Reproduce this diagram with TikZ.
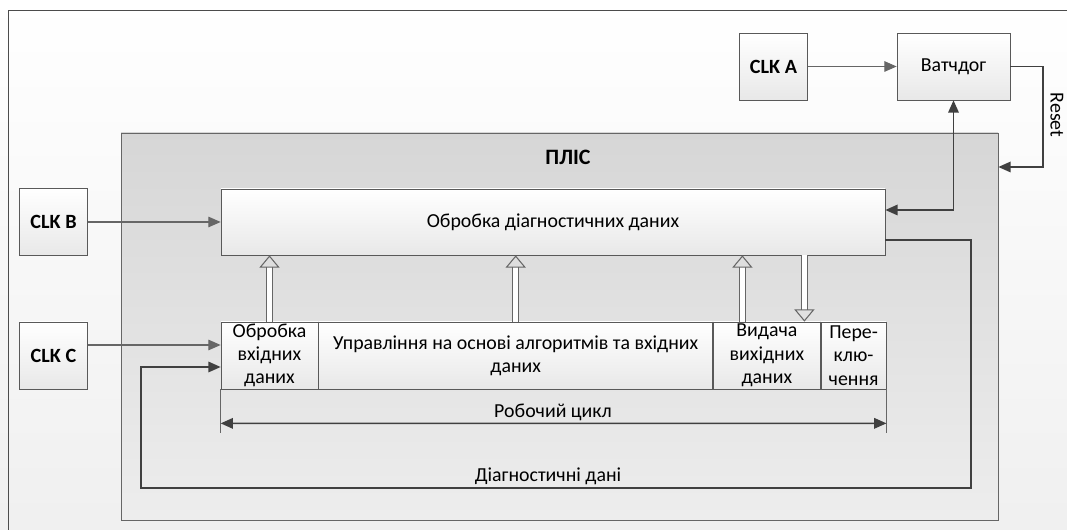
\documentclass[tikz,border=0pt]{standalone}
\usepackage{fontspec}
\setmainfont{Carlito}
\usetikzlibrary{positioning,arrows.meta}

\begin{document}
\begin{tikzpicture}[>={Triangle[length=7pt,width=6pt]}, font=\fontsize{11.3}{13.3}\selectfont]
	\tikzstyle{bx} = [rectangle,draw=black!65,top color=white,bottom color=black!9,inner sep=1pt];
	\tikzstyle{clk} = [bx,minimum height=1.34cm,minimum width=1.36cm,font=\fontsize{11.5}{13}\selectfont\bfseries];
	\tikzstyle{cell} = [bx,minimum height=1.34cm,align=center];
	\tikzstyle{wire} = [draw=black!75,line width=0.9pt];
	\tikzstyle{clkwire} = [draw=black!60,semithick];
	\tikzstyle{hollow} = [draw=black!60,double=white,double distance=2.8pt,line width=0.6pt,-{Triangle[open,length=7pt,width=11.5pt]}];
	
	% background and frame
	\useasboundingbox (0,0) rectangle (21.34,10.6);
	\fill[top color=white,bottom color=black!6] (0,0) rectangle (21.34,10.6);
	\draw[black!70]{
		(0.16,0) -- (0.16,10.4) -- (21.34,10.4)
	};
	
	\node[rectangle,draw=black!60,top color=black!16,bottom color=black!7,minimum width=17.54cm,minimum height=7.74cm](plis) at (11.19,4.07){};
	\node[](title)at(11.36,7.46){\fontsize{12.5}{14}\selectfont\bfseries ПЛІС};
	
	\node[clk](clka) at (15.47,9.27){CLK A};
	\node[bx,minimum width=2.26cm,minimum height=1.34cm](wd) at (19.07,9.27){Ватчдог};
	\node[clk](clkb) at (1.07,6.16){CLK B};
	\node[clk](clkc) at (1.07,3.49){CLK C};
	
	\node[bx,minimum width=13.28cm,minimum height=1.32cm](diag) at (11.06,6.16){Обробка діагностичних даних};
	\node[cell,minimum width=1.94cm](inp) at (5.39,3.49){Обробка\\вхідних\\даних};
	\node[cell,minimum width=7.88cm,right=0pt of inp](ctrl){Управління на основі алгоритмів та вхідних\\даних};
	\node[cell,minimum width=2.14cm,right=0pt of ctrl](outp){Видача\\вихідних\\даних};
	\node[cell,minimum width=1.3cm,right=0pt of outp](sw){Пере-\\клю-\\чення};
	
	% clocks and watchdog
	\draw[->,clkwire] (clka) -- (wd);
	\draw[->,clkwire] (clkb) -- (diag);
	\draw[->,clkwire] ([yshift=0.21cm]clkc.east) -- ([yshift=0.21cm]inp.west);
	\coordinate (rst) at (20.86,7.26);
	\draw[->,wire] (wd.east) -| (rst) -- (rst -| plis.east);
	\node[rotate=270](rlabel) at (21.14,8.3){Reset};
	\draw[<->,wire] (wd.south) |- ([yshift=0.24cm]diag.east);
	
	% diagnostic loop
	\coordinate (lp1) at (19.42,0.84);
	\coordinate (lp2) at (2.82,3.26);
	\draw[->,wire] ([yshift=-0.36cm]diag.east) -| (lp1) -| (lp2) -- (lp2 -| inp.west);
	\node[](dlabel) at (10.96,1.08){Діагностичні дані};
	
	% working cycle
	\draw[clkwire] (inp.south west) -- ++(0,-0.88);
	\draw[clkwire] (sw.south east) -- ++(0,-0.88);
	\draw[<->,wire] ([yshift=-0.68cm]inp.south west) -- ([yshift=-0.68cm]sw.south east);
	\node[](clabel) at (11.06,2.36){Робочий цикл};
	
	% data transfer
	\draw[hollow] (inp.north) -- (inp.north |- diag.south);
	\draw[hollow] (ctrl.north) -- (ctrl.north |- diag.south);
	\draw[hollow] ([xshift=-0.49cm]outp.north) -- ([xshift=-0.49cm]outp.north |- diag.south);
	\draw[hollow] ([xshift=0.75cm]outp.north |- diag.south) -- ([xshift=0.75cm]outp.north);
\end{tikzpicture}
\end{document}
